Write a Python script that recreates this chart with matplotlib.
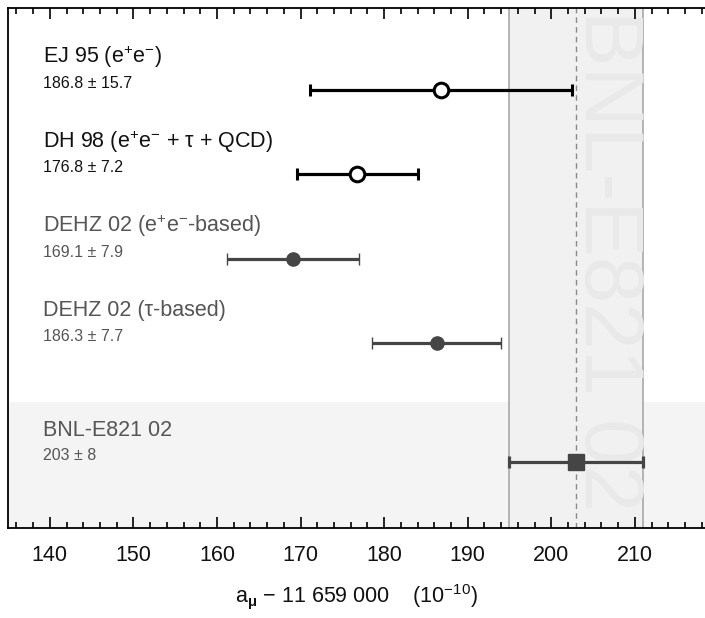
import numpy as np
import matplotlib
matplotlib.use("Agg")
import matplotlib.pyplot as plt
import matplotlib.transforms as mtransforms
from matplotlib.ticker import MultipleLocator

plt.rcParams['font.family'] = ['Liberation Sans', 'DejaVu Sans']
plt.rcParams['mathtext.fontset'] = 'custom'
plt.rcParams['mathtext.rm'] = 'Liberation Sans'
plt.rcParams['mathtext.it'] = 'Liberation Sans:italic'
plt.rcParams['mathtext.bf'] = 'Liberation Sans:bold'

# ---- data ----
labels = [r"EJ 95 (e$^{+}$e$^{-}$)",
          r"DH 98 (e$^{+}$e$^{-}$ + τ + QCD)",
          r"DEHZ 02 (e$^{+}$e$^{-}$-based)",
          r"DEHZ 02 (τ-based)"]
values = [186.8, 176.8, 169.1, 186.3]
errors = [15.7, 7.2, 7.9, 7.7]
value_texts = ["186.8 ± 15.7", "176.8 ± 7.2", "169.1 ± 7.9", "186.3 ± 7.7"]
exp_label = "BNL-E821 02"
exp_value = 203.0
exp_error = 8.0
exp_value_text = "203 ± 8"
xticks = [140, 150, 160, 170, 180, 190, 200, 210]

# ---- styles ----
styles = [
    dict(color='black', fmt='o', mfc='white', ms=10.5, mew=2.2),
    dict(color='black', fmt='o', mfc='white', ms=10.5, mew=2.2),
    dict(color='#454545', fmt='o', mfc='#454545', ms=9.5, mew=1),
    dict(color='#454545', fmt='o', mfc='#454545', ms=9.5, mew=1),
]
text_colors = ['#111111', '#111111', '#555555', '#555555']

fig = plt.figure(figsize=(7.05, 6.18), dpi=100)
ax = fig.add_axes([8/705, 90/618, 697/705, 520/618])

ypos = np.arange(len(values), dtype=float)
y_exp = 4.41

ax.set_xlim(135, 218.4)
ax.set_ylim(5.19, -0.973)

# background for experimental row
ax.axhspan(3.70, 5.19, color='#f4f4f4', zorder=0, lw=0)
# experimental band
ax.axvspan(exp_value - exp_error, exp_value + exp_error, color='#f1f1f1', zorder=0.5, lw=0)
ax.axvline(exp_value - exp_error, color='#a8a8a8', lw=1.2, zorder=1)
ax.axvline(exp_value + exp_error, color='#a8a8a8', lw=1.2, zorder=1)
ax.axvline(exp_value, color='#8a8a8a', lw=1.0, ls=(0, (4, 3)), zorder=1)
ax.text(exp_value + 3.7, 0.515, exp_label, rotation=-90, fontsize=60, color='#e9e9e9',
        ha='center', va='center', transform=mtransforms.blended_transform_factory(ax.transData, ax.transAxes),
        zorder=1.5)

trans = mtransforms.blended_transform_factory(ax.transAxes, ax.transData)
for i in range(len(values)):
    st = styles[i]
    ax.errorbar(values[i], ypos[i], xerr=errors[i], fmt=st['fmt'], color=st['color'],
                mfc=st['mfc'], mec=st['color'], ms=st['ms'], mew=st['mew'],
                elinewidth=2.3, capsize=4.5, capthick=2.3, zorder=3)
    ax.text(0.05, ypos[i] - 0.39, labels[i], transform=trans, fontsize=15.5,
            color=text_colors[i], ha='left', va='center')
    ax.text(0.05, ypos[i] - 0.08, value_texts[i], transform=trans, fontsize=11.5,
            color=text_colors[i], ha='left', va='center')

ax.errorbar(exp_value, y_exp, xerr=exp_error, fmt='s', color='#454545', mfc='#454545',
            mec='#454545', ms=11, elinewidth=2.3, capsize=4.5, capthick=2.3, zorder=3)
ax.text(0.05, y_exp - 0.38, exp_label, transform=trans, fontsize=15.5,
        color='#555555', ha='left', va='center')
ax.text(0.05, y_exp - 0.08, exp_value_text, transform=trans, fontsize=11.5,
        color='#555555', ha='left', va='center')

ax.set_xticks(xticks)
ax.set_xticklabels([str(t) for t in xticks])
ax.xaxis.set_minor_locator(MultipleLocator(2))
ax.set_yticks([])
ax.tick_params(axis='x', which='both', direction='in', top=True, bottom=True,
               labelsize=15.5, pad=12, width=1.2, labelcolor='#111111')
ax.tick_params(axis='x', which='major', length=8)
ax.tick_params(axis='x', which='minor', length=4)
for s in ['left', 'top', 'bottom']:
    ax.spines[s].set_linewidth(1.3)
ax.spines['right'].set_visible(False)

ax.set_xlabel(r"a$_{\mathbf{\mu}}$ − 11 659 000    (10$^{-10}$)", fontsize=15.5, labelpad=12,
              color='#111111')

fig.savefig("out.png", dpi=100)
